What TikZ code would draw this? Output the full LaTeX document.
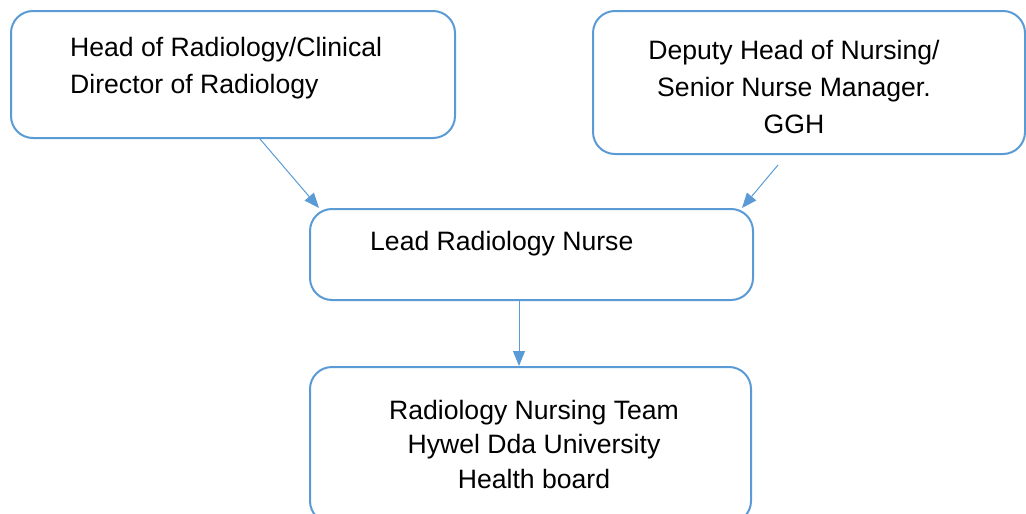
\documentclass[tikz,border=0pt]{standalone}
\usepackage{fontspec}
\setmainfont{Liberation Sans}
\usetikzlibrary{arrows.meta}

\definecolor{boxblue}{HTML}{5B9BD5}

\begin{document}
\begin{tikzpicture}[x=1pt, y=-1pt,
    box/.style={draw=boxblue, line width=2pt, rounded corners=22pt, inner sep=0pt, anchor=north west},
    txt/.style={inner sep=0pt, font=\fontsize{26.6}{37}\selectfont},
    arr/.style={draw=boxblue, line width=1pt, -{Triangle[length=15pt,width=12pt]}}]
            \useasboundingbox (0,0) rectangle (1026,514);

            % Boxes
            \node (head) [box, minimum width=444pt, minimum height=127pt] at (10,10) {};
            \node (deputy) [box, minimum width=432pt, minimum height=143pt] at (592,10) {};
            \node (lead) [box, minimum width=443pt, minimum height=91pt] at (309,208) {};
            \node (team) [box, minimum width=441pt, minimum height=156pt] at (309,366) {};

            % Texts
            \node (headtxt) [txt, align=left, anchor=west] at (70,68.5) {Head of Radiology/Clinical\\Director of Radiology};
            \node (deputytxt) [txt, align=center] at (794,87) {Deputy Head of Nursing/\\Senior Nurse Manager.\\GGH};
            \node (leadtxt) [txt, anchor=west] at (370,244) {Lead Radiology Nurse};
            \node (teamtxt) [txt, align=center, font=\fontsize{26.6}{34.5}\selectfont] at (534,444) {Radiology Nursing Team\\Hywel Dda University\hspace*{28pt}\\Health board};

            % Arrows
            \coordinate (dstart) at (778,165);
            \draw[arr] ([xshift=250pt]head.south west) -- ([xshift=10pt]lead.north west);
            \draw[arr] (dstart) -- ([xshift=-12pt]lead.north east);
            \draw[arr] ([xshift=210pt]lead.south west) -- ([xshift=210pt]team.north west);
        \end{tikzpicture}
\end{document}
